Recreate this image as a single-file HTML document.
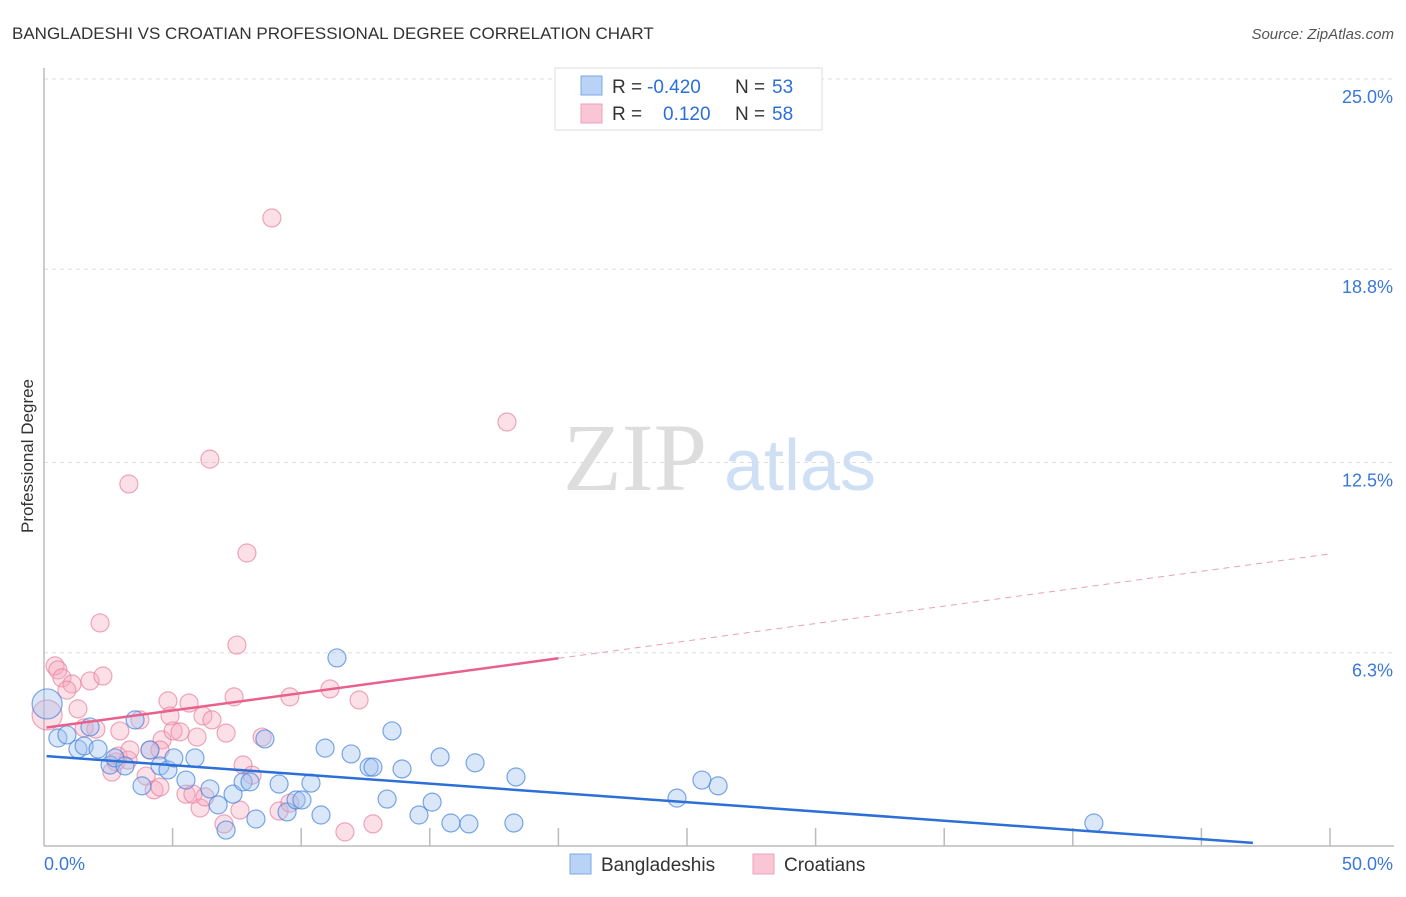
<!DOCTYPE html>
<html><head><meta charset="utf-8"><style>
body{margin:0;background:#fff;font-family:"Liberation Sans",sans-serif;}
svg text{font-family:"Liberation Sans",sans-serif;}
</style></head><body>
<svg width="1406" height="892" viewBox="0 0 1406 892" id="chart">
<text x="12" y="39" font-size="17" fill="#333">BANGLADESHI VS CROATIAN PROFESSIONAL DEGREE CORRELATION CHART</text>
<text x="1394" y="39" font-size="15" fill="#555" font-style="italic" text-anchor="end">Source: ZipAtlas.com</text>
<text x="33" y="456" font-size="17" fill="#333" text-anchor="middle" transform="rotate(-90 33 456)">Professional Degree</text>
<g>
<text x="635" y="490" font-size="96" fill="#ddd" font-family="Liberation Serif" text-anchor="middle" style="font-family:'Liberation Serif',serif">ZIP</text>
<text x="800" y="490" font-size="72" fill="#cfe0f5" text-anchor="middle">atlas</text>
</g>
<g id="grid"></g>
<g id="axes"></g>
<g id="points"></g>
<g id="trends"></g>
<g>
<rect x="555" y="68" width="267" height="62" fill="#fff" stroke="#ddd"/>
<rect x="581" y="76" width="21" height="19" fill="#b8d3f5" stroke="#7aa7e6"/>
<rect x="581" y="104" width="21" height="19" fill="#f9c6d5" stroke="#eea2b8"/>
<text x="612" y="93" font-size="19" fill="#333">R =</text>
<text x="647" y="93" font-size="19" fill="#2c6fd6">-0.420</text>
<text x="735" y="93" font-size="19" fill="#333">N =</text>
<text x="772" y="93" font-size="19" fill="#2c6fd6">53</text>
<text x="612" y="120" font-size="19" fill="#333">R =</text>
<text x="663" y="120" font-size="19" fill="#2c6fd6">0.120</text>
<text x="735" y="120" font-size="19" fill="#333">N =</text>
<text x="772" y="120" font-size="19" fill="#2c6fd6">58</text>
</g>
<g>
<rect x="570" y="854" width="21" height="20" fill="#b8d3f5" stroke="#7aa7e6"/>
<text x="601" y="871" font-size="19" fill="#333">Bangladeshis</text>
<rect x="753" y="854" width="21" height="20" fill="#f9c6d5" stroke="#eea2b8"/>
<text x="784" y="871" font-size="19" fill="#333">Croatians</text>
</g>
</svg>
<script>
const blueX=[0.12,0.54,0.89,1.32,1.56,1.79,2.1,2.57,2.76,3.15,3.54,3.81,4.12,4.51,4.82,5.05,5.52,5.87,6.45,6.77,7.08,7.35,7.74,8.01,8.24,8.59,9.14,9.45,9.8,10.03,10.38,10.77,10.93,11.39,11.94,12.64,12.79,13.34,13.53,13.92,14.58,15.09,15.4,15.82,16.52,16.76,18.27,18.35,24.61,25.58,26.21,40.82];
const blueY=[4.63,3.52,3.62,3.16,3.26,3.88,3.16,2.64,2.87,2.61,4.11,1.96,3.13,2.61,2.48,2.87,2.15,2.87,1.86,1.34,0.52,1.69,2.09,2.09,0.88,3.49,2.02,1.11,1.5,1.5,2.05,1.01,3.19,6.13,3.0,2.57,2.57,1.53,3.75,2.51,1.01,1.43,2.9,0.75,0.72,2.71,0.75,2.25,1.56,2.15,1.96,0.75];
const redX=[8.86,18.0,6.45,3.3,7.89,2.18,7.5,0.43,0.54,0.12,0.7,1.09,0.89,1.32,1.79,2.29,1.56,2.02,2.95,3.73,4.59,4.82,4.9,5.02,5.29,5.64,5.95,6.18,6.53,7.08,7.39,8.48,9.56,11.12,12.25,2.8,2.88,3.27,4.12,3.97,4.28,4.51,5.52,5.79,6.07,6.26,7.0,7.62,7.74,8.09,9.14,9.56,11.7,12.79,2.64,3.34,4.51];
const redY=[20.47,13.82,12.61,11.8,9.55,7.27,6.55,5.87,5.74,4.27,5.48,5.28,5.08,4.47,5.38,5.54,3.85,3.81,3.75,4.11,3.46,4.73,4.24,3.75,3.72,4.66,3.55,4.24,4.11,3.68,4.86,3.55,4.86,5.12,4.76,2.74,2.93,2.8,3.13,2.28,1.83,1.92,1.69,1.69,1.24,1.6,0.72,1.17,2.64,2.31,1.14,1.4,0.46,0.72,2.41,3.13,3.13];
const yTicks=[25,18.8,12.5,6.3];
const yTickLabels=["25.0%","18.8%","12.5%","6.3%"];
const blueTrend=[2.93,0.1,47.0];
const redTrend=[3.85,9.52,20];
const NS="http://www.w3.org/2000/svg";
const sx=v=>44+v*25.72, sy=v=>846-v*30.68;
function mk(tag,attrs,parent){const e=document.createElementNS(NS,tag);for(const k in attrs)e.setAttribute(k,attrs[k]);document.getElementById(parent).appendChild(e);return e;}
mk('line',{x1:44,y1:79,x2:1394,y2:79,stroke:'#ddd','stroke-dasharray':'4,4'},'grid');
yTicks.forEach((t,i)=>{
 const l=mk('line',{x1:44,y1:sy(t),x2:1394,y2:sy(t),stroke:'#ddd','stroke-dasharray':'4,4'},'grid');
 
 
 const tx=mk('text',{x:1393,y:sy(t)+24,'font-size':18,fill:'#3a78d8','text-anchor':'end'},'grid');
 tx.textContent=yTickLabels[i];
 
 
});
const ya=mk('line',{x1:44,y1:68,x2:44,y2:846,stroke:'#bbb','stroke-width':1.5},'axes');


const xa=mk('line',{x1:44,y1:846,x2:1394,y2:846,stroke:'#bbb','stroke-width':1.5},'axes');


for(let v=5;v<=50;v+=5){const t=mk('line',{x1:sx(v),y1:828,x2:sx(v),y2:846,stroke:'#bbb','stroke-width':1.5},'axes');
 
 }
const x0=mk('text',{x:44,y:870,'font-size':18,fill:'#3a78d8'},'axes');x0.textContent='0.0%';


const x1=mk('text',{x:1393,y:870,'font-size':18,fill:'#3a78d8','text-anchor':'end'},'axes');x1.textContent='50.0%';


redX.forEach((x,i)=>{const c=mk('circle',{cx:sx(x),cy:sy(redY[i]),r:i===9?15:9,fill:'rgba(245,165,190,0.35)',stroke:'rgba(232,130,160,0.7)','stroke-width':1.2},'points');
 
 });
blueX.forEach((x,i)=>{const c=mk('circle',{cx:sx(x),cy:sy(blueY[i]),r:i===0?15:9,fill:'rgba(160,195,240,0.4)',stroke:'rgba(70,130,220,0.7)','stroke-width':1.2},'points');
 
 });
const bt=mk('line',{x1:sx(0.1),y1:sy(blueTrend[0]),x2:sx(blueTrend[2]),y2:sy(blueTrend[1]),stroke:'#2c6fd6','stroke-width':2.5},'trends');


const rAt=v=>redTrend[0]+(redTrend[1]-redTrend[0])*v/50;
const rt=mk('line',{x1:sx(0.1),y1:sy(rAt(0.1)),x2:sx(redTrend[2]),y2:sy(rAt(redTrend[2])),stroke:'#e8608c','stroke-width':2.5},'trends');


const rd=mk('line',{x1:sx(redTrend[2]),y1:sy(rAt(redTrend[2])),x2:sx(50),y2:sy(rAt(50)),stroke:'#e8a0b8','stroke-width':1,'stroke-dasharray':'6,5'},'trends');


</script>
</body></html>
